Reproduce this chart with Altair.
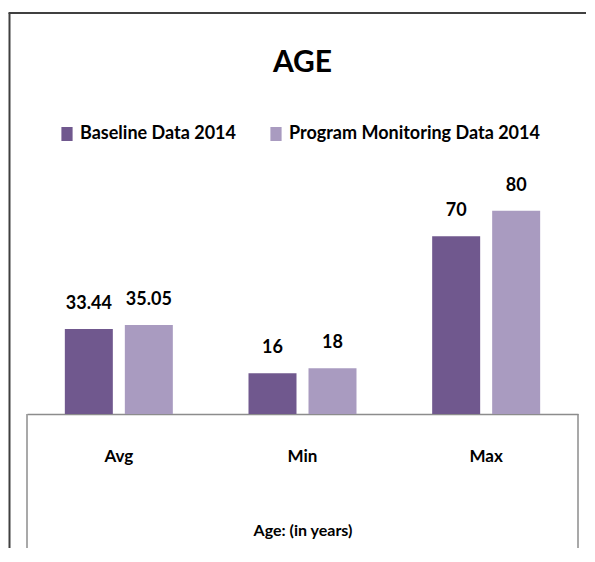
import altair as alt
import pandas as pd

categories = ["Avg", "Min", "Max"]
series = ["Baseline Data 2014", "Program Monitoring Data 2014"]
baseline_values = [33.44, 16, 70]
program_values = [35.05, 18, 80]
colors = ["#70588E", "#A99BC0"]

rows = []
for c, b, p in zip(categories, baseline_values, program_values):
    rows.append({"category": c, "series": series[0], "value": b})
    rows.append({"category": c, "series": series[1], "value": p})
df = pd.DataFrame(rows)
df["label"] = df["value"].map(lambda v: f"{v:g}")

FONT = "Lato, Roboto, sans-serif"
W, H = 551, 254

x = alt.X(
    "category:N",
    sort=categories,
    scale=alt.Scale(paddingInner=0.412, paddingOuter=0.206),
    axis=alt.Axis(
        title="Age: (in years)",
        labelAngle=0,
        ticks=False,
        tickSize=0,
        labelPadding=42,
        labelBaseline="middle",
        domainColor="#8c8c8c",
        domainWidth=1.5,
        labelFont=FONT,
        labelFontSize=17,
        labelFontWeight="bold",
        labelColor="black",
        titleFont=FONT,
        titleFontSize=16,
        titleFontWeight="bold",
        titleColor="black",
        titleY=116,
        titleBaseline="middle",
    ),
)
xo = alt.XOffset("series:N", sort=series, scale=alt.Scale(paddingInner=0.2, paddingOuter=0))
y = alt.Y("value:Q", scale=alt.Scale(domain=[0, 100]), axis=None)
color = alt.Color(
    "series:N",
    sort=series,
    scale=alt.Scale(domain=series, range=colors),
    legend=alt.Legend(
        title=None,
        orient="none",
        legendX=31,
        legendY=-35,
        direction="horizontal",
        symbolType="M-0.8,-1H0.8V1H-0.8Z",
        symbolSize=196,
        symbolStrokeWidth=0,
        symbolOpacity=1,
        labelFont=FONT,
        labelFontSize=18,
        labelFontWeight="bold",
        labelColor="black",
        labelOffset=4,
        columnPadding=31,
        labelLimit=400,
        padding=0,
    ),
)

bars = alt.Chart(df).mark_bar().encode(x=x, xOffset=xo, y=y, color=color)
labels = alt.Chart(df).mark_text(
    dy=-16, baseline="bottom", font=FONT, fontSize=18, fontWeight="bold", color="black"
).encode(x=x, xOffset=xo, y=y, text="label:N")

one = pd.DataFrame({"k": [0]})
frame_left = alt.Chart(one).mark_rule(color="#404040", strokeWidth=2).encode(
    x=alt.value(-17.5), y=alt.value(-147), y2=alt.value(H + 160)
)
frame_top = alt.Chart(one).mark_rule(color="#404040", strokeWidth=2).encode(
    x=alt.value(-18.5), x2=alt.value(W + 30), y=alt.value(-147)
)
box_left = alt.Chart(one).mark_rule(color="#8c8c8c", strokeWidth=1.5).encode(
    x=alt.value(0), y=alt.value(H), y2=alt.value(H + 143)
)
box_right = alt.Chart(one).mark_rule(color="#8c8c8c", strokeWidth=1.5).encode(
    x=alt.value(W), y=alt.value(H), y2=alt.value(H + 143)
)

chart = (
    alt.layer(bars, labels, frame_left, frame_top, box_left, box_right)
    .properties(
        width=W,
        height=H,
        title=alt.TitleParams(
            "AGE", font=FONT, fontSize=30, fontWeight="bold", color="black",
            anchor="middle", offset=-66,
        ),
        autosize=alt.AutoSizeParams(type="none"),
        padding={"left": 19, "top": 152, "right": 8, "bottom": 134},
        background="white",
    )
    .configure_view(strokeWidth=0, stroke=None)
)

chart.save("out.html", embed_options={"renderer": "svg", "actions": False})
